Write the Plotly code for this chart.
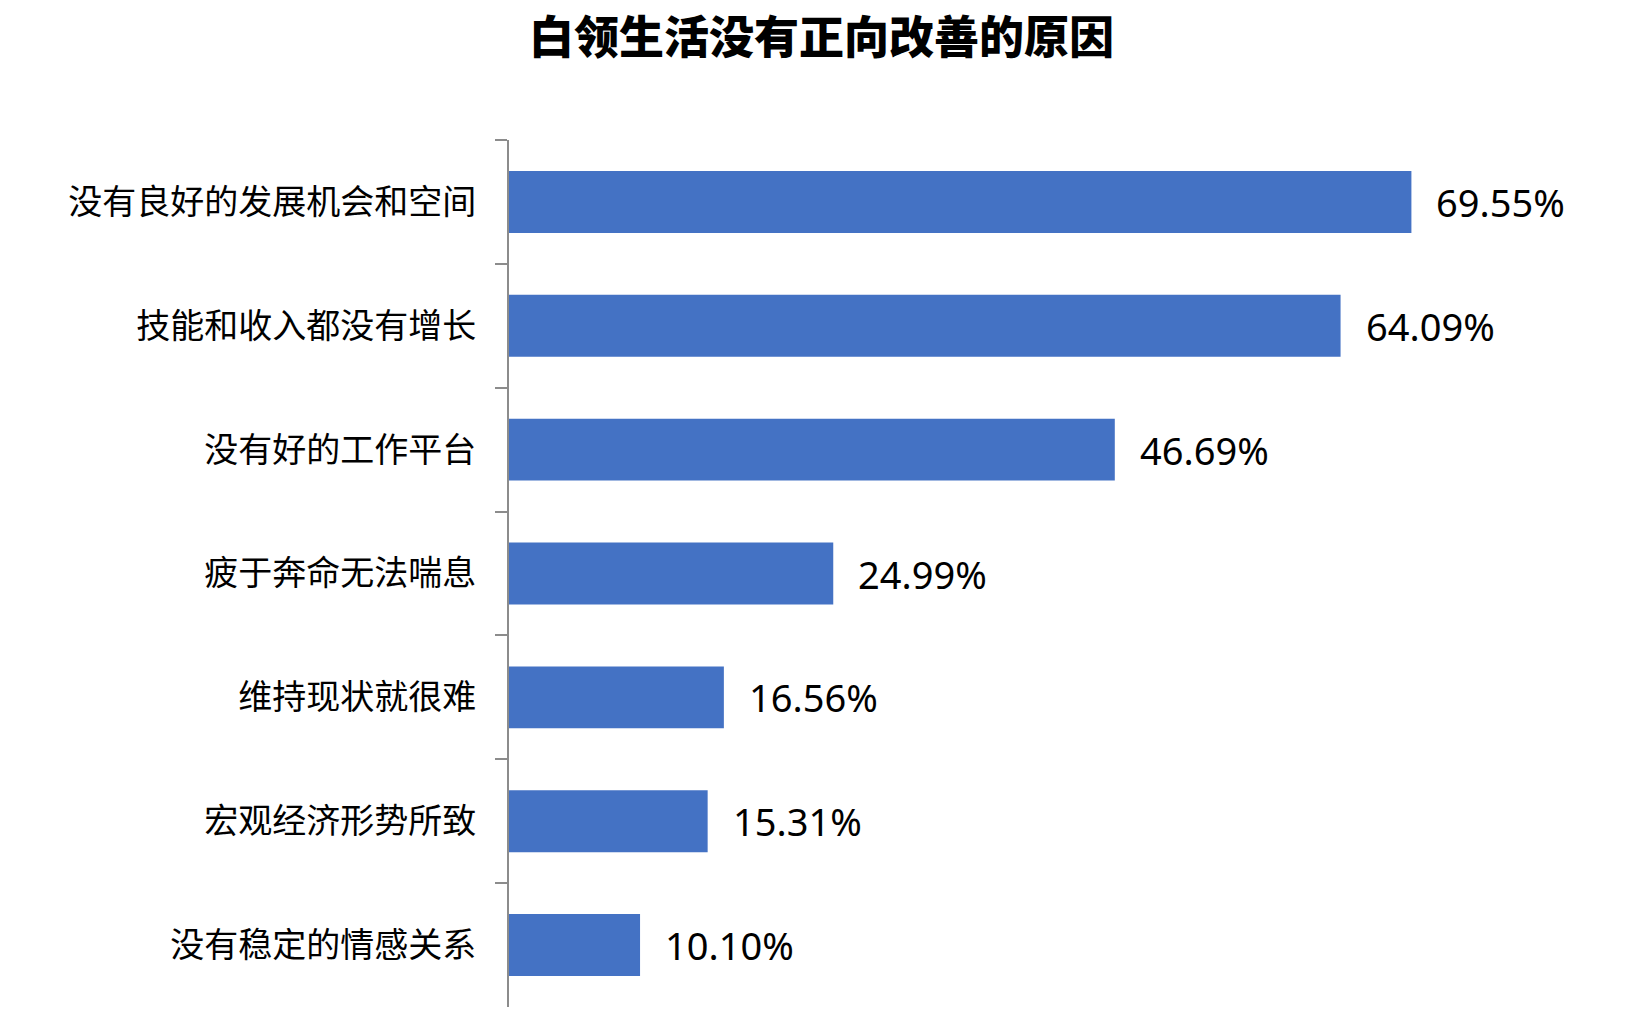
import plotly.graph_objects as go

title = "白领生活没有正向改善的原因"
categories = ["没有良好的发展机会和空间", "技能和收入都没有增长", "没有好的工作平台",
              "疲于奔命无法喘息", "维持现状就很难", "宏观经济形势所致", "没有稳定的情感关系"]
values = [69.55, 64.09, 46.69, 24.99, 16.56, 15.31, 10.10]
labels = ["69.55%", "64.09%", "46.69%", "24.99%", "16.56%", "15.31%", "10.10%"]

fig = go.Figure()
fig.add_trace(go.Bar(
    x=values, y=categories, orientation="h",
    marker=dict(color="#4472C4", line=dict(width=0)),
    width=0.5, hoverinfo="skip",
))
for v, c, t in zip(values, categories, labels):
    fig.add_annotation(x=v, y=c, text=t, showarrow=False, xanchor="left",
                       xshift=23, yshift=0,
                       font=dict(family="Noto Sans, Noto Sans CJK SC", size=38, color="#000000"))

fig.update_layout(
    width=1633, height=1018,
    margin=dict(l=509, r=86, t=140, b=11),
    paper_bgcolor="white", plot_bgcolor="white",
    showlegend=False,
    title=dict(text=title, x=0.503, xanchor="center", y=0.962, yanchor="middle",
               font=dict(family="Noto Sans CJK SC", size=45, color="#000000", weight=900)),
    xaxis=dict(range=[0, 80], visible=False, fixedrange=True),
    yaxis=dict(
        type="category", autorange="reversed",
        showline=True, linecolor="#8c8c8c", linewidth=2,
        ticks="outside", tickson="boundaries", ticklen=12, tickwidth=2, tickcolor="#8c8c8c",
        showgrid=False, zeroline=False,
        ticklabelstandoff=24,
        tickfont=dict(family="Noto Sans CJK SC", size=34, color="#000000"),
    ),
)
fig.write_html("out.html")
